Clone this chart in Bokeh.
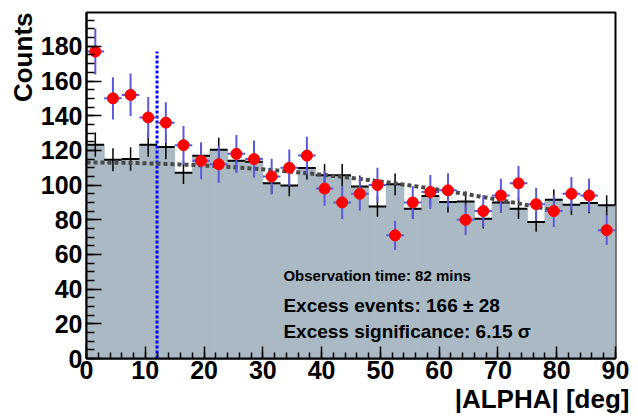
import numpy as np
from bokeh.plotting import figure
from bokeh.models import Label, Range1d, FixedTicker, Title
from bokeh.embed import file_html
from bokeh.resources import INLINE

# ---------------- data ----------------
ALPHA_LOW = [0, 3, 6, 9, 12, 15, 18, 21, 24, 27, 30, 33, 36, 39, 42,
             45, 48, 51, 54, 57, 60, 63, 66, 69, 72, 75, 78, 81, 84, 87]
ALPHA_BIN_WIDTH = 3

ON_COUNTS = [177, 150, 152, 139, 136, 123, 114, 112, 118, 115, 105, 110, 117, 98, 90,
             95, 100, 71, 90, 96, 97, 80, 85, 94, 101, 89, 85, 95, 94, 74]
ON_ERR = [13.3, 12.2, 12.3, 11.8, 11.7, 11.1, 10.7, 10.6, 10.9, 10.7, 10.2, 10.5, 10.8, 9.9, 9.5,
          9.7, 10.0, 8.4, 9.5, 9.8, 9.8, 8.9, 9.2, 9.7, 10.0, 9.4, 9.2, 9.7, 9.7, 8.6]

OFF_COUNTS = [123.3, 114.6, 115.0, 123.3, 121.9, 107.1, 116.9, 120.4, 114.0, 113.5, 101.0, 99.8, 109.8, 105.6, 105.6,
              99.2, 87.7, 100.4, 86.3, 93.7, 90.2, 90.5, 80.6, 90.0, 86.3, 78.7, 91.5, 88.7, 89.7, 88.3]
OFF_ERR = [7.0, 6.7, 6.8, 7.0, 7.0, 6.5, 6.8, 6.9, 6.7, 6.7, 6.3, 6.3, 6.6, 6.5, 6.5,
           6.3, 5.9, 6.3, 5.9, 6.1, 6.0, 6.0, 5.7, 6.0, 5.9, 5.6, 6.0, 5.9, 6.0, 5.9]

# background fit  a + b * alpha^2 over its fit range
FIT_A = 113.0
FIT_B = -0.00437
FIT_RANGE = [0, 80]

SIGNAL_CUT = 12  # deg

X_TITLE = "|ALPHA| [deg]"
Y_TITLE = "Counts"
TEXT_OBS = "Observation time: 82 mins"
TEXT_EXCESS = "Excess events: 166 \u00b1 28"
TEXT_SIG = "Excess significance: 6.15 \u03c3"

# ---------------- derived ----------------
lo = np.array(ALPHA_LOW, dtype=float)
hi = lo + ALPHA_BIN_WIDTH
ctr = lo + ALPHA_BIN_WIDTH / 2.0
on = np.array(ON_COUNTS, dtype=float)
on_e = np.array(ON_ERR)
off = np.array(OFF_COUNTS)
off_e = np.array(OFF_ERR)

FONT = "Liberation Sans"
GRAY = "#aab9c3"
BLUE_ERR = "#5a5adc"

p = figure(width=638, height=418, output_backend="svg", toolbar_location=None,
           x_range=Range1d(0, 90), y_range=Range1d(0, 199.5),
           min_border_left=86, min_border_right=23, min_border_top=12, min_border_bottom=60)
p.background_fill_color = "white"
p.border_fill_color = "white"
p.xgrid.visible = False
p.ygrid.visible = False
p.outline_line_color = "black"
p.outline_line_width = 2

# OFF histogram (filled) with black error crosses
p.quad(left=lo, right=hi, bottom=0, top=off, fill_color=GRAY, line_color=GRAY, line_width=1)
p.segment(x0=lo, x1=hi, y0=off, y1=off, line_color="black", line_width=2)
p.segment(x0=ctr, x1=ctr, y0=off - off_e, y1=off + off_e, line_color="black", line_width=1.5)

# signal cut line
p.segment(x0=[SIGNAL_CUT], x1=[SIGNAL_CUT], y0=[0], y1=[on.max()],
          line_color="#0000ff", line_width=3, line_dash="3 2")

# fit
fx = np.linspace(FIT_RANGE[0], FIT_RANGE[1], 300)
fy = FIT_A + FIT_B * fx ** 2
p.line(fx, fy, line_color="#4a4a4a", line_width=4, line_dash="4 3")

# ON points
p.segment(x0=lo, x1=hi, y0=on, y1=on, line_color=BLUE_ERR, line_width=2)
p.segment(x0=ctr, x1=ctr, y0=on - on_e, y1=on + on_e, line_color=BLUE_ERR, line_width=2)
p.scatter(ctr, on, size=11, fill_color="#ff0000", line_color="#ff0000")

# axes
for ax in (p.xaxis[0], p.yaxis[0]):
    ax.axis_line_color = "black"
    ax.axis_line_width = 2
    ax.major_tick_line_color = "black"
    ax.minor_tick_line_color = "black"
    ax.major_tick_line_width = 1.5
    ax.minor_tick_line_width = 1.5
    ax.major_tick_out = 0
    ax.minor_tick_out = 0
    ax.major_label_text_font = FONT
    ax.major_label_text_font_style = "bold"
    ax.major_label_text_font_size = "25px"
    ax.major_label_text_color = "black"

p.xaxis.ticker = FixedTicker(ticks=list(range(0, 91, 10)), minor_ticks=list(range(0, 91, 2)))
p.yaxis.ticker = FixedTicker(ticks=list(range(0, 181, 20)), minor_ticks=list(range(0, 200, 5)))
p.xaxis.major_tick_in = 12
p.xaxis.minor_tick_in = 6
p.yaxis.major_tick_in = 15
p.yaxis.minor_tick_in = 8
p.xaxis.major_label_standoff = 2
p.yaxis.major_label_standoff = 4

# axis titles, aligned to the far end of each axis as in the reference
p.add_layout(Title(text=X_TITLE, align="right", offset=-14, standoff=0,
                   text_font=FONT, text_font_style="bold", text_font_size="26px",
                   text_color="black"), "below")
p.add_layout(Title(text=Y_TITLE, align="right", offset=0, standoff=0,
                   text_font=FONT, text_font_style="bold", text_font_size="26px",
                   text_color="black"), "left")

# info texts
p.add_layout(Label(x=33.5, y=48, text=TEXT_OBS, text_baseline="alphabetic",
                   text_font=FONT, text_font_style="bold", text_font_size="15px",
                   text_color="black"))
p.add_layout(Label(x=33.5, y=30.8, text=TEXT_EXCESS, text_baseline="alphabetic",
                   text_font=FONT, text_font_style="bold", text_font_size="19px",
                   text_color="black"))
p.add_layout(Label(x=33.5, y=15.6, text=TEXT_SIG, text_baseline="alphabetic",
                   text_font=FONT, text_font_style="bold", text_font_size="19px",
                   text_color="black"))

open("out.html", "w").write(file_html(p, INLINE))
